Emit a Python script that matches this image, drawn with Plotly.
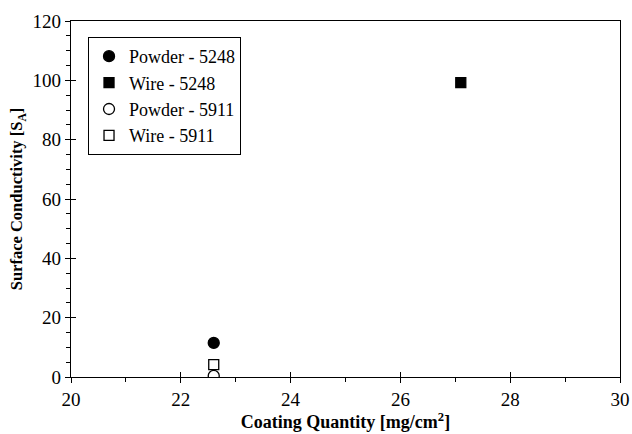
import plotly.graph_objects as go

series_names = ["Powder - 5248", "Wire - 5248", "Powder - 5911", "Wire - 5911"]
series_x = [[22.6], [27.1], [22.6], [22.6]]
series_y = [[11.5], [99.2], [0.4], [4.2]]
symbols = ["circle", "square", "circle-open", "square-open"]
sizes = [11, 10, 11, 10]

serif = "Liberation Serif"

fig = go.Figure()
for name, xs, ys, sym, sz in zip(series_names, series_x, series_y, symbols, sizes):
    fig.add_trace(go.Scatter(
        x=xs, y=ys, mode="markers", name=name,
        marker=dict(symbol=sym, size=sz, color="black", line=dict(color="black", width=1.3)),
    ))

# invisible trace on overlay axes (for inside tick marks)
fig.add_trace(go.Scatter(x=[20], y=[0], xaxis="x2", yaxis="y2", mode="markers",
                         marker=dict(opacity=0), showlegend=False, hoverinfo="skip"))

axis_common = dict(showgrid=False, zeroline=False, linecolor="black", linewidth=1.2,
                   mirror=True, ticks="outside", ticklen=5, tickcolor="black", tickwidth=1,
                   automargin=False,
                   tickfont=dict(family=serif, size=19, color="black"))

fig.update_layout(
    width=632, height=434,
    margin=dict(l=71, r=12, t=21, b=57),
    paper_bgcolor="white", plot_bgcolor="white",
    font=dict(family=serif, color="black"),
    xaxis=dict(range=[20, 30], dtick=2, tick0=20,
               minor=dict(dtick=1, ticks="outside", ticklen=4, tickcolor="black"),
               title=dict(text="<b>Coating Quantity [mg/cm<sup>2</sup>]</b>",
                          font=dict(family=serif, size=18), standoff=4),
               **axis_common),
    yaxis=dict(range=[0, 120], dtick=20, tick0=0,
               minor=dict(dtick=5, ticks="outside", ticklen=4, tickcolor="black"),
               title=dict(text="<b>Surface Conductivity [S<sub>A</sub>]</b>",
                          font=dict(family=serif, size=16.5), standoff=5),
               **axis_common),
    xaxis2=dict(range=[20, 30], dtick=2, overlaying="x", anchor="y2", side="bottom",
                ticks="inside", ticklen=5, tickcolor="black", showticklabels=False,
                showgrid=False, zeroline=False, showline=False, automargin=False),
    yaxis2=dict(range=[0, 120], dtick=20, overlaying="y", anchor="x2", side="left",
                ticks="inside", ticklen=5, tickcolor="black", showticklabels=False,
                showgrid=False, zeroline=False, showline=False, automargin=False),
    legend=dict(x=0.031, y=0.955, xanchor="left", yanchor="top",
                bordercolor="black", borderwidth=1, bgcolor="white",
                font=dict(family=serif, size=18, color="black"),
                itemwidth=30, tracegroupgap=0),
    showlegend=True,
)

fig.write_html("out.html", config={"displayModeBar": False},
               post_script="document.body.style.margin='0';")
